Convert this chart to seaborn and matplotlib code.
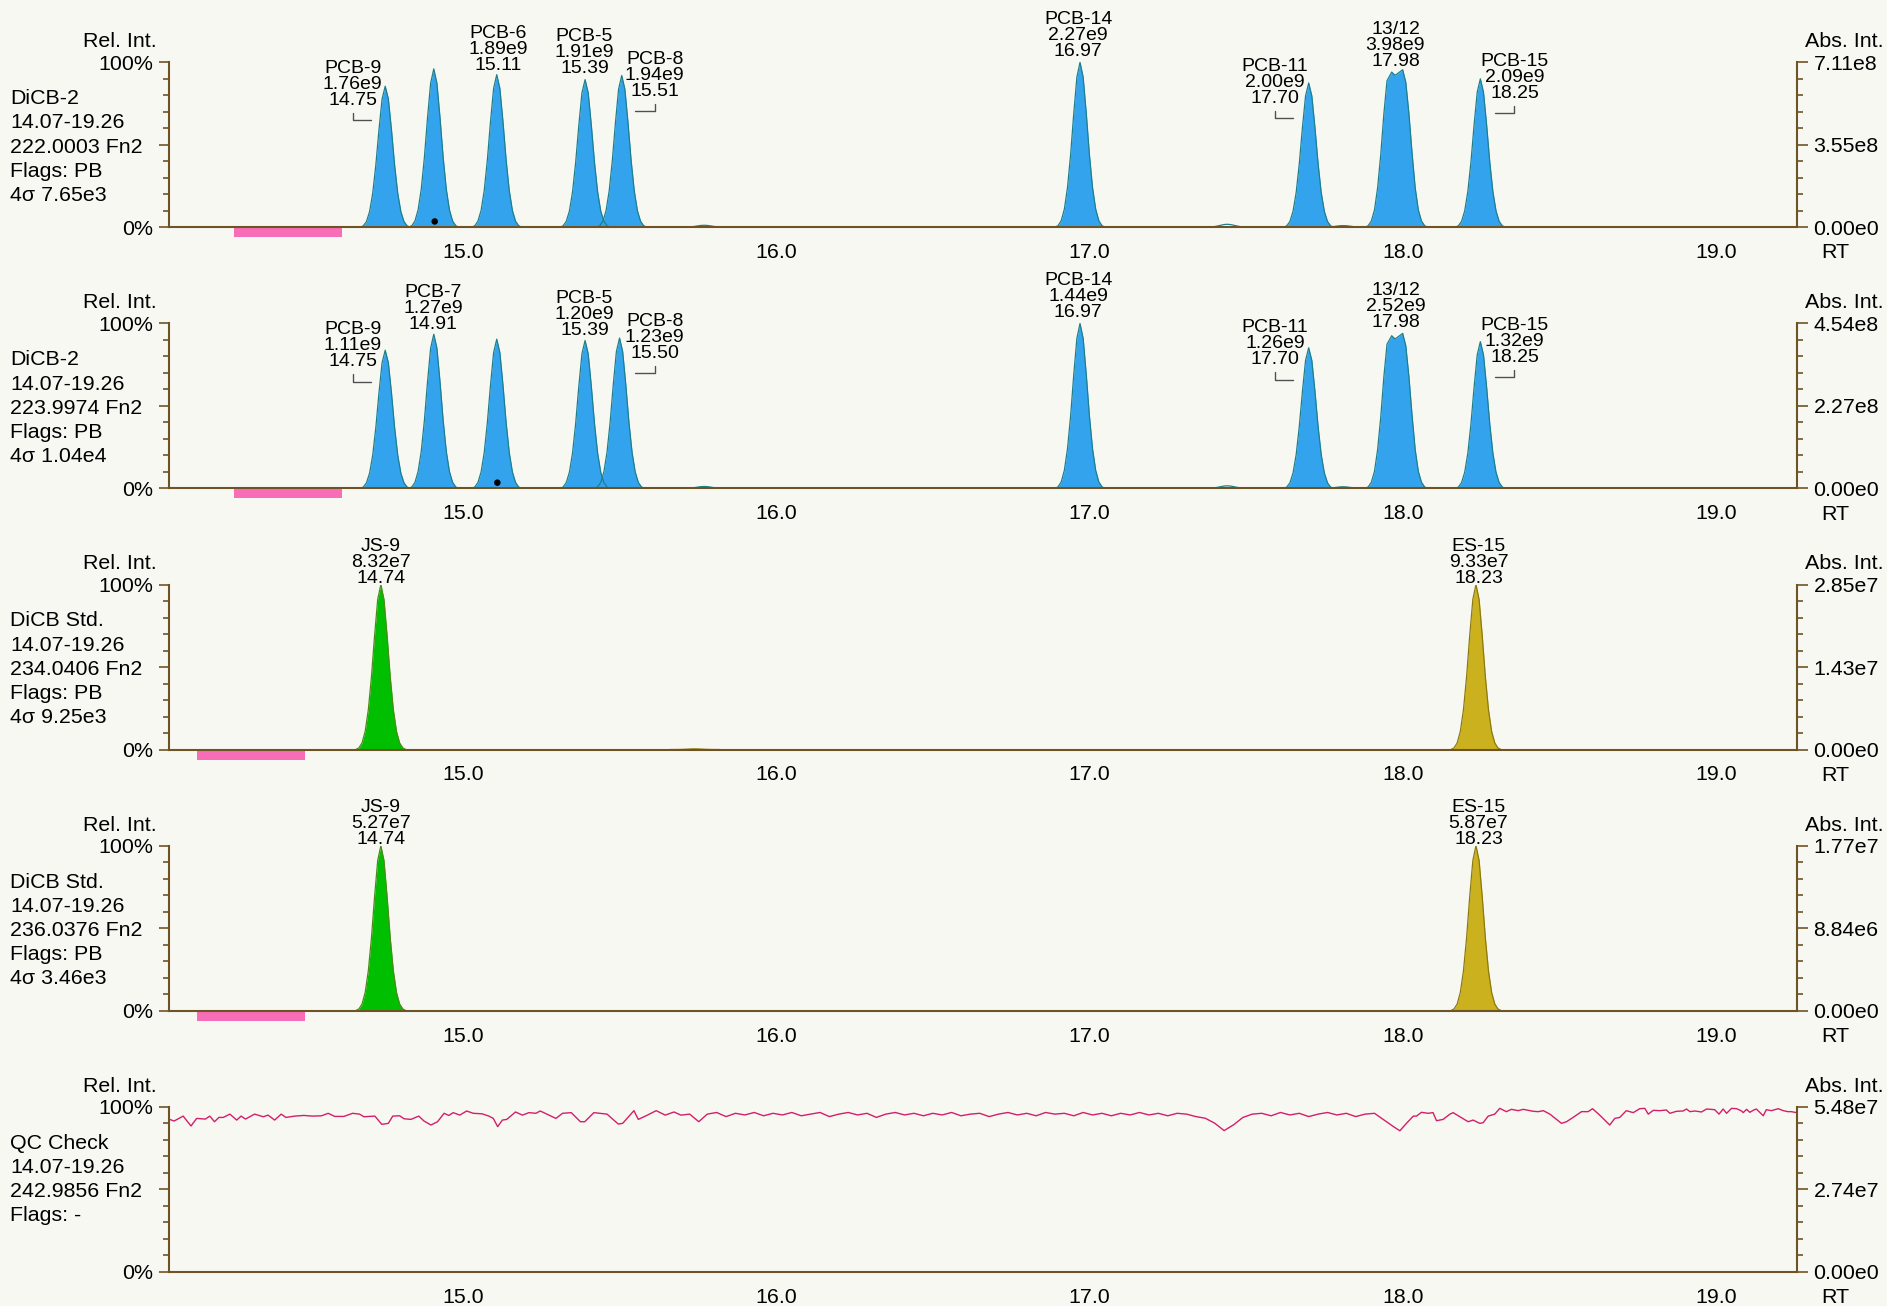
"""
Stacked chromatogram view: two DiCB-2 mass traces, two DiCB Std. traces
and the QC lock-mass check, RT window 14.07-19.26 min.
"""
import numpy as np
import pandas as pd
import matplotlib
matplotlib.use('Agg')
import matplotlib.pyplot as plt
from matplotlib.ticker import FixedLocator, MultipleLocator, FuncFormatter
import seaborn as sns

# --- data ----------------------------------------------------------------------

RT_RANGE = (14.062, 19.26)

# shared single-peak shape: fraction of apex height at offsets (min) from apex
PEAK_OFFSETS = [-0.08, -0.07, -0.06, -0.05, -0.04, -0.03, -0.02, -0.01, 0.0,
                0.01, 0.02, 0.03, 0.04, 0.05, 0.06, 0.07, 0.08]
PEAK_SHAPE = [0.0, 0.01, 0.04, 0.11, 0.24, 0.44, 0.69, 0.91, 1.0,
              0.91, 0.69, 0.44, 0.24, 0.11, 0.04, 0.01, 0.0]

# co-eluting 13/12 pair (double top), offsets from 17.98
PAIR_OFFSETS = [-0.10, -0.09, -0.08, -0.07, -0.06, -0.05, -0.04, -0.03, -0.015,
                -0.005, 0.0, 0.02, 0.03, 0.04, 0.05, 0.06, 0.07, 0.08, 0.09, 0.10]
PAIR_SHAPE = [0.0, 0.01, 0.04, 0.11, 0.25, 0.46, 0.72, 0.93, 0.985,
              0.965, 0.97, 1.0, 0.92, 0.72, 0.47, 0.25, 0.11, 0.04, 0.01, 0.0]

# panel 1 : DiCB-2, 222.0003
P1_RT = [14.752, 14.907, 15.108, 15.390, 15.507, 16.970, 17.700, 17.980, 18.248]
P1_HEIGHT = [85.5, 96.0, 92.5, 89.5, 92.0, 100.0, 87.5, 95.5, 90.0]
P1_NAME = ['PCB-9', '', 'PCB-6', 'PCB-5', 'PCB-8', 'PCB-14', 'PCB-11', '13/12', 'PCB-15']
P1_AREA = ['1.76e9', '', '1.89e9', '1.91e9', '1.94e9', '2.27e9', '2.00e9', '3.98e9', '2.09e9']
P1_RT_LABEL = ['14.75', '', '15.11', '15.39', '15.51', '16.97', '17.70', '17.98', '18.25']
P1_SMALL_RT = [15.77, 17.44, 17.81]
P1_SMALL_HEIGHT = [1.2, 1.8, 1.0]
P1_DOT = (14.91, 3.5)
P1_WINDOW = (14.27, 14.615)
P1_INFO = ['DiCB-2', '14.07-19.26', '222.0003 Fn2', 'Flags: PB', '4σ 7.65e3']
P1_ABS = ['0.00e0', '3.55e8', '7.11e8']

# panel 2 : DiCB-2, 223.9974
P2_RT = [14.752, 14.907, 15.108, 15.390, 15.500, 16.970, 17.700, 17.980, 18.248]
P2_HEIGHT = [83.8, 93.5, 90.5, 89.7, 91.2, 100.0, 85.3, 94.0, 89.0]
P2_NAME = ['PCB-9', 'PCB-7', '', 'PCB-5', 'PCB-8', 'PCB-14', 'PCB-11', '13/12', 'PCB-15']
P2_AREA = ['1.11e9', '1.27e9', '', '1.20e9', '1.23e9', '1.44e9', '1.26e9', '2.52e9', '1.32e9']
P2_RT_LABEL = ['14.75', '14.91', '', '15.39', '15.50', '16.97', '17.70', '17.98', '18.25']
P2_SMALL_RT = [15.77, 17.44, 17.81]
P2_SMALL_HEIGHT = [1.2, 1.6, 1.0]
P2_DOT = (15.11, 3.5)
P2_WINDOW = (14.27, 14.615)
P2_INFO = ['DiCB-2', '14.07-19.26', '223.9974 Fn2', 'Flags: PB', '4σ 1.04e4']
P2_ABS = ['0.00e0', '2.27e8', '4.54e8']

# panel 3 : DiCB Std., 234.0406
P3_RT = [14.738, 18.234]
P3_HEIGHT = [100.0, 100.0]
P3_NAME = ['JS-9', 'ES-15']
P3_AREA = ['8.32e7', '9.33e7']
P3_RT_LABEL = ['14.74', '18.23']
P3_SMALL_RT = [15.74]
P3_SMALL_HEIGHT = [0.4]
P3_WINDOW = (14.15, 14.495)
P3_INFO = ['DiCB Std.', '14.07-19.26', '234.0406 Fn2', 'Flags: PB', '4σ 9.25e3']
P3_ABS = ['0.00e0', '1.43e7', '2.85e7']

# panel 4 : DiCB Std., 236.0376
P4_RT = [14.738, 18.234]
P4_HEIGHT = [100.0, 100.0]
P4_NAME = ['JS-9', 'ES-15']
P4_AREA = ['5.27e7', '5.87e7']
P4_RT_LABEL = ['14.74', '18.23']
P4_WINDOW = (14.15, 14.495)
P4_INFO = ['DiCB Std.', '14.07-19.26', '236.0376 Fn2', 'Flags: PB', '4σ 3.46e3']
P4_ABS = ['0.00e0', '8.84e6', '1.77e7']

# panel 5 : QC Check, 242.9856 (lock mass trace, % of 5.48e7)
QC_RT = [14.064, 14.078, 14.107, 14.132, 14.150, 14.178, 14.192, 14.207, 14.221, 14.235,
         14.256, 14.278, 14.292, 14.306, 14.335, 14.363, 14.378, 14.399, 14.420, 14.435,
         14.463, 14.492, 14.520, 14.549, 14.570, 14.591, 14.620, 14.648, 14.670, 14.684,
         14.719, 14.741, 14.762, 14.776, 14.798, 14.812, 14.834, 14.859, 14.876, 14.898,
         14.919, 14.940, 14.955, 14.969, 14.990, 15.012, 15.033, 15.061, 15.083, 15.097,
         15.111, 15.126, 15.140, 15.168, 15.190, 15.211, 15.233, 15.247, 15.268, 15.297,
         15.318, 15.346, 15.375, 15.389, 15.418, 15.460, 15.496, 15.510, 15.546, 15.560,
         15.589, 15.617, 15.646, 15.674, 15.696, 15.724, 15.753,
         15.78, 15.81, 15.84, 15.87, 15.90, 15.93, 15.96, 15.99, 16.02, 16.05,
         16.08, 16.11, 16.14, 16.17, 16.20, 16.23, 16.26, 16.29, 16.32, 16.35,
         16.38, 16.41, 16.44, 16.47, 16.50, 16.53, 16.56, 16.59, 16.62, 16.65,
         16.68, 16.71, 16.74, 16.77, 16.80, 16.83, 16.86, 16.89, 16.92, 16.95,
         16.98, 17.01, 17.04, 17.07, 17.10, 17.13, 17.16, 17.19, 17.22, 17.25,
         17.28, 17.31, 17.34, 17.37, 17.40, 17.43, 17.46, 17.49, 17.52, 17.55,
         17.58, 17.61, 17.64, 17.67, 17.70, 17.73, 17.76, 17.79, 17.82, 17.85,
         17.88, 17.91, 17.94, 17.97,
         17.991, 18.012, 18.034, 18.044, 18.060, 18.081, 18.097, 18.108, 18.129, 18.151,
         18.161, 18.183, 18.209, 18.225, 18.246, 18.257, 18.273, 18.294, 18.310, 18.331,
         18.347, 18.369, 18.385, 18.417, 18.433, 18.449, 18.470, 18.491, 18.507, 18.523,
         18.544, 18.571, 18.592, 18.606, 18.629, 18.661, 18.677, 18.693, 18.714, 18.736,
         18.757, 18.773, 18.784, 18.800, 18.821, 18.842, 18.853, 18.874, 18.895, 18.906,
         18.917, 18.933, 18.954, 18.970, 18.996, 19.010, 19.023, 19.034, 19.050, 19.066,
         19.082, 19.087, 19.098, 19.108, 19.121, 19.129, 19.151, 19.161, 19.177, 19.199,
         19.215, 19.230, 19.241, 19.257]
QC_INT = [92.3, 91.3, 94.3, 88.3, 92.9, 92.5, 94.3, 90.9, 93.5, 93.5,
          95.5, 91.9, 94.3, 92.5, 95.5, 93.9, 94.9, 91.9, 95.5, 93.5,
          94.3, 94.7, 94.3, 94.5, 96.0, 94.1, 94.1, 96.0, 95.5, 93.9,
          94.3, 89.3, 89.9, 94.3, 94.5, 92.7, 92.3, 94.3, 91.3, 88.9,
          90.9, 96.0, 94.7, 96.4, 94.9, 97.4, 96.0, 95.7, 94.3, 92.9,
          87.9, 91.9, 92.3, 96.8, 94.9, 96.4, 96.0, 97.4, 95.5, 92.9,
          96.0, 96.4, 90.9, 90.9, 96.4, 95.5, 89.5, 89.9, 97.6, 92.3,
          94.9, 97.6, 94.9, 96.8, 94.9, 95.5, 90.9,
          95.5, 96.5, 94.0, 96.0, 95.0, 96.5, 94.5, 96.0, 95.0, 96.5,
          94.5, 95.5, 96.5, 94.0, 95.5, 96.5, 95.0, 96.0, 93.5, 95.5,
          96.5, 95.0, 96.0, 94.5, 96.0, 95.0, 96.5, 94.5, 95.5, 96.0,
          94.0, 95.5, 96.5, 95.0, 96.0, 94.5, 96.5, 95.5, 96.0, 94.5,
          96.5, 95.0, 96.0, 94.5, 96.0, 95.0, 96.5, 95.0, 96.0, 94.5,
          96.0, 95.5, 94.0, 93.0, 90.0, 85.5, 89.0, 93.5, 95.5, 96.0,
          94.5, 96.5, 95.0, 96.0, 94.0, 95.5, 96.5, 95.0, 96.0, 94.0,
          95.5, 96.0, 92.0, 88.0,
          85.4, 89.9, 94.3, 94.3, 96.6, 96.0, 96.4, 91.5, 92.3, 95.5,
          96.4, 93.9, 90.9, 91.9, 89.9, 90.3, 94.3, 95.5, 99.0, 97.0,
          98.4, 97.6, 98.4, 97.2, 97.0, 97.6, 95.5, 92.3, 89.9, 90.9,
          93.5, 97.0, 97.0, 98.8, 94.9, 88.9, 92.9, 93.5, 97.6, 96.4,
          98.8, 99.0, 95.5, 97.8, 97.6, 98.0, 96.0, 97.2, 97.4, 98.6,
          97.0, 97.4, 96.8, 98.6, 98.2, 95.5, 98.6, 96.0, 99.0, 98.8,
          97.4, 96.4, 98.4, 96.6, 98.0, 98.6, 94.5, 98.2, 97.6, 98.8,
          97.6, 97.0, 97.0, 96.4]
QC_INFO = ['QC Check', '14.07-19.26', '242.9856 Fn2', 'Flags: -']
QC_ABS = ['0.00e0', '2.74e7', '5.48e7']

# --- layout / style -------------------------------------------------------------

BG = '#F8F8F3'
AXIS_COLOR = '#6E5424'
BLUE_FILL, BLUE_EDGE = '#34A3EE', '#1E7F8C'
GREEN_FILL, GREEN_EDGE = '#00BF00', '#4B8B1A'
GOLD_FILL, GOLD_EDGE = '#CBB11D', '#8C7A10'
WINDOW_COLOR = '#F86DB8'
QC_COLOR = '#D21F6B'

PANEL_LEFT, PANEL_WIDTH, PANEL_HEIGHT = 0.0896, 0.8629, 0.1263
PANEL_BOTTOMS = [0.8260, 0.6260, 0.4261, 0.2262, 0.0263]

# label anchor: (RT of label centre, % height of the bottom line, bracket side)
LABELS = [
    {'PCB-9': (14.648, 77.0, 'left'), 'PCB-6': (15.113, 98.2, None),
     'PCB-5': (15.388, 96.0, None), 'PCB-8': (15.612, 82.2, 'right'),
     'PCB-14': (16.964, 106.5, None), 'PCB-11': (17.592, 78.2, 'left'),
     '13/12': (17.977, 100.7, None), 'PCB-15': (18.357, 81.0, 'right')},
    {'PCB-9': (14.648, 76.8, 'left'), 'PCB-7': (14.905, 99.6, None),
     'PCB-5': (15.388, 95.9, None), 'PCB-8': (15.612, 81.9, 'right'),
     'PCB-14': (16.964, 106.6, None), 'PCB-11': (17.592, 77.9, 'left'),
     '13/12': (17.977, 100.7, None), 'PCB-15': (18.357, 79.4, 'right')},
    {'JS-9': (14.739, 103.8, None), 'ES-15': (18.242, 103.8, None)},
    {'JS-9': (14.739, 103.8, None), 'ES-15': (18.242, 103.8, None)},
]

PX = 0.72  # points per output pixel at dpi 100
LABEL_SIZE = 14
TEXT_SIZE = 15.4


def peak_outline(rt, height, name):
    offs, shape = (PAIR_OFFSETS, PAIR_SHAPE) if name == '13/12' else (PEAK_OFFSETS, PEAK_SHAPE)
    return rt + np.asarray(offs), height * np.asarray(shape)


def style_axes(ax, abs_labels, info):
    ax.set_facecolor(BG)
    ax.set_xlim(*RT_RANGE)
    ax.set_ylim(0, 100)
    ax.set_xlabel('')
    ax.set_ylabel('')
    for side in ('top', 'right'):
        ax.spines[side].set_visible(False)
    for side in ('left', 'bottom'):
        ax.spines[side].set_color(AXIS_COLOR)
        ax.spines[side].set_linewidth(1.5)

    ax.xaxis.set_major_locator(FixedLocator(np.arange(14.5, 19.01, 0.5)))
    ax.xaxis.set_minor_locator(MultipleLocator(0.1))
    ax.xaxis.set_major_formatter(
        FuncFormatter(lambda v, p: f'{v:.1f}' if abs(v - round(v)) < 1e-6 else ''))
    ax.yaxis.set_major_locator(FixedLocator([0, 50, 100]))
    ax.yaxis.set_minor_locator(MultipleLocator(10))
    ax.set_yticklabels(['0%', '', '100%'])
    ax.tick_params(axis='x', which='major', length=8, width=1.2, color=AXIS_COLOR,
                   labelsize=TEXT_SIZE, labelcolor='black', pad=3.5, direction='out')
    ax.tick_params(axis='x', which='minor', length=3.6, width=1.2, color=AXIS_COLOR,
                   direction='out')
    ax.tick_params(axis='y', which='major', length=7.2, width=1.2, color=AXIS_COLOR,
                   labelsize=TEXT_SIZE, labelcolor='black', pad=4.5, direction='out')
    ax.tick_params(axis='y', which='minor', length=4.3, width=1.2, color=AXIS_COLOR,
                   direction='out')

    tw = ax.twinx()
    tw.set_ylim(0, 100)
    for side in ('top', 'left', 'bottom'):
        tw.spines[side].set_visible(False)
    tw.spines['right'].set_color(AXIS_COLOR)
    tw.spines['right'].set_linewidth(1.5)
    tw.yaxis.set_major_locator(FixedLocator([0, 50, 100]))
    tw.yaxis.set_minor_locator(MultipleLocator(10))
    tw.set_yticklabels(abs_labels)
    tw.tick_params(axis='y', which='major', length=8, width=1.2, color=AXIS_COLOR,
                   labelsize=TEXT_SIZE, labelcolor='black', pad=3.6, direction='out')
    tw.tick_params(axis='y', which='minor', length=4.3, width=1.2, color=AXIS_COLOR,
                   direction='out')

    ax.annotate('Rel. Int.', xy=(0, 1), xycoords='axes fraction',
                xytext=(-12 * PX, 20.6 * PX), textcoords='offset points',
                ha='right', va='center', fontsize=TEXT_SIZE)
    ax.annotate('Abs. Int.', xy=(1, 1), xycoords='axes fraction',
                xytext=(8 * PX, 20.6 * PX), textcoords='offset points',
                ha='left', va='center', fontsize=TEXT_SIZE)
    ax.annotate('RT', xy=(1, 0), xycoords='axes fraction',
                xytext=(23.5 * PX, -25.6 * PX), textcoords='offset points',
                ha='left', va='center', fontsize=TEXT_SIZE)
    for k, line in enumerate(info):
        ax.annotate(line, xy=(0, 1), xycoords='axes fraction',
                    xytext=(-159 * PX, (-36.4 - 24.2 * k) * PX), textcoords='offset points',
                    ha='left', va='center', fontsize=TEXT_SIZE)


def draw_labels(ax, names, areas, rt_labels, layout):
    for name, area, rtl in zip(names, areas, rt_labels):
        if not name:
            continue
        x, y, bracket = layout[name]
        for k, line in enumerate([rtl, area, name]):
            ax.annotate(line, xy=(x, y), xycoords='data',
                        xytext=(0, 16 * k * PX), textcoords='offset points',
                        ha='center', va='center', fontsize=LABEL_SIZE,
                        annotation_clip=False)
        if bracket == 'left':
            ax.plot([x, x, x + 0.058], [y - 7.5, y - 12, y - 12],
                    color='#505050', lw=1, clip_on=False, zorder=3)
        elif bracket == 'right':
            ax.plot([x - 0.062, x, x], [y - 12, y - 12, y - 7.5],
                    color='#505050', lw=1, clip_on=False, zorder=3)


def draw_peaks(ax, rts, heights, names, fills, edges):
    for i, (rt, h, name) in enumerate(zip(rts, heights, names)):
        x, y = peak_outline(rt, h, name)
        ax.fill_between(x, 0, y, color=fills[i], lw=0, zorder=2)
        df = pd.DataFrame({'rt': x, 'intensity': y})
        sns.lineplot(data=df, x='rt', y='intensity', color=edges[i], lw=0.9,
                     sort=False, ax=ax, zorder=2.2)


def draw_small(ax, rts, heights, color):
    rows = []
    for i, (rt, h) in enumerate(zip(rts, heights)):
        x, y = peak_outline(rt, h, '')
        rows.append(pd.DataFrame({'rt': x, 'intensity': y, 'peak': i}))
    df = pd.concat(rows, ignore_index=True)
    sns.lineplot(data=df, x='rt', y='intensity', units='peak', estimator=None,
                 color=color, lw=0.9, sort=False, ax=ax, zorder=2.2)


def draw_window(ax, window):
    ax.axvspan(window[0], window[1], ymin=-0.0606, ymax=0, color=WINDOW_COLOR,
               lw=0, clip_on=False, zorder=1.5)


sns.set_theme(style='white')
plt.rcParams['font.family'] = ['Liberation Sans', 'DejaVu Sans']
plt.rcParams['axes.unicode_minus'] = False
plt.rcParams['text.color'] = 'black'

fig = plt.figure(figsize=(18.87, 13.06), dpi=100, facecolor=BG)
axes = [fig.add_axes([PANEL_LEFT, b, PANEL_WIDTH, PANEL_HEIGHT]) for b in PANEL_BOTTOMS]

# panels 1 and 2: DiCB-2 traces
for ax, rts, hs, names, areas, rtl, small_rt, small_h, dot, win, info, absl, lay in [
        (axes[0], P1_RT, P1_HEIGHT, P1_NAME, P1_AREA, P1_RT_LABEL, P1_SMALL_RT,
         P1_SMALL_HEIGHT, P1_DOT, P1_WINDOW, P1_INFO, P1_ABS, LABELS[0]),
        (axes[1], P2_RT, P2_HEIGHT, P2_NAME, P2_AREA, P2_RT_LABEL, P2_SMALL_RT,
         P2_SMALL_HEIGHT, P2_DOT, P2_WINDOW, P2_INFO, P2_ABS, LABELS[1])]:
    draw_peaks(ax, rts, hs, names, [BLUE_FILL] * len(rts), [BLUE_EDGE] * len(rts))
    draw_small(ax, small_rt, small_h, BLUE_EDGE)
    sns.scatterplot(x=[dot[0]], y=[dot[1]], color='black', s=22, ax=ax, zorder=3,
                    edgecolor='none')
    draw_window(ax, win)
    style_axes(ax, absl, info)
    draw_labels(ax, names, areas, rtl, lay)

# panels 3 and 4: DiCB Std. traces
for ax, rts, hs, names, areas, rtl, win, info, absl, lay in [
        (axes[2], P3_RT, P3_HEIGHT, P3_NAME, P3_AREA, P3_RT_LABEL, P3_WINDOW,
         P3_INFO, P3_ABS, LABELS[2]),
        (axes[3], P4_RT, P4_HEIGHT, P4_NAME, P4_AREA, P4_RT_LABEL, P4_WINDOW,
         P4_INFO, P4_ABS, LABELS[3])]:
    draw_peaks(ax, rts, hs, names, [GREEN_FILL, GOLD_FILL], [GREEN_EDGE, GOLD_EDGE])
    if ax is axes[2]:
        draw_small(ax, P3_SMALL_RT, P3_SMALL_HEIGHT, GOLD_EDGE)
    draw_window(ax, win)
    style_axes(ax, absl, info)
    draw_labels(ax, names, areas, rtl, lay)

# panel 5: QC check trace
qc = pd.DataFrame({'rt': QC_RT, 'intensity': QC_INT})
sns.lineplot(data=qc, x='rt', y='intensity', color=QC_COLOR, lw=1.0, sort=False,
             ax=axes[4], zorder=2.2)
style_axes(axes[4], QC_ABS, QC_INFO)

fig.savefig('out.png', dpi=100, facecolor=BG)
plt.close(fig)
